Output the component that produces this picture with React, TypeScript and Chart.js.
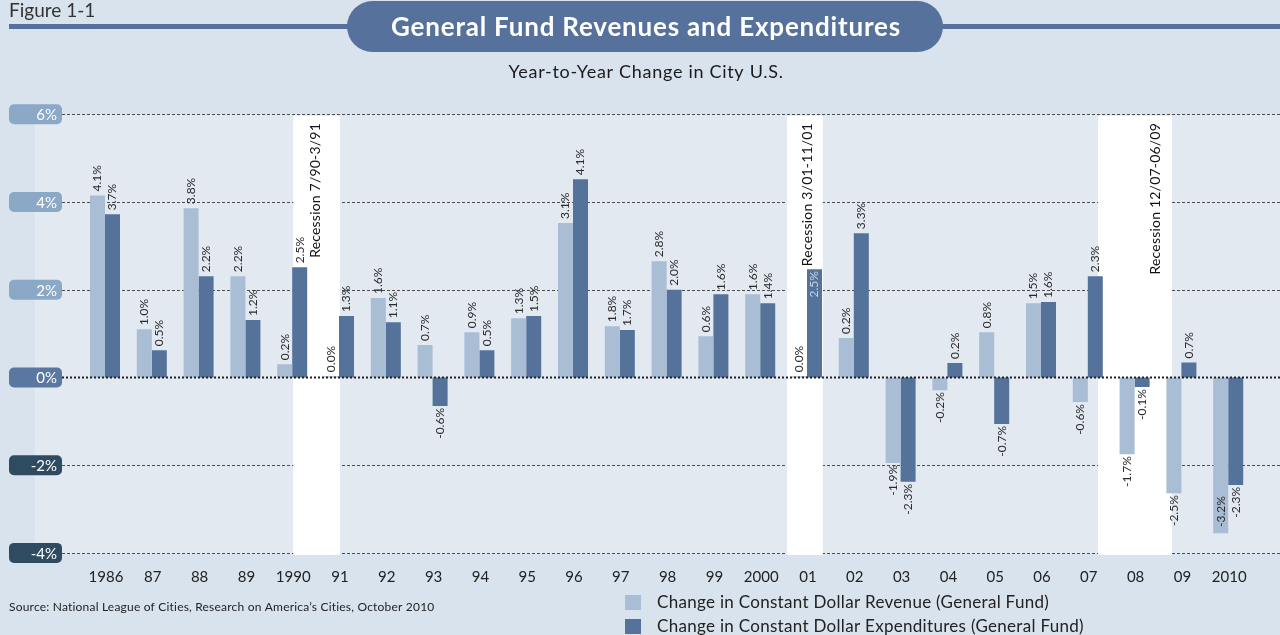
import { useEffect, useRef } from 'react';
import { Chart, registerables } from 'chart.js';

Chart.register(...registerables);

const FONT = 'Lato, "Open Sans", sans-serif';

const years = ['1986', '87', '88', '89', '1990', '91', '92', '93', '94', '95', '96', '97', '98', '99', '2000', '01', '02', '03', '04', '05', '06', '07', '08', '09', '2010'];

// bar heights as drawn in the reference (percent)
const revenueValues = [4.15, 1.10, 3.86, 2.31, 0.30, 0.03, 1.81, 0.74, 1.03, 1.35, 3.52, 1.17, 2.65, 0.94, 1.90, 0.03, 0.90, -1.95, -0.29, 1.03, 1.69, -0.56, -1.75, -2.64, -3.55];
const expenditureValues = [3.72, 0.62, 2.31, 1.31, 2.51, 1.40, 1.26, -0.65, 0.62, 1.40, 4.52, 1.08, 2.00, 1.90, 1.69, 2.47, 3.29, -2.38, 0.33, -1.06, 1.72, 2.31, -0.22, 0.34, -2.45];

// value labels as printed in the reference
const revenueLabels = ['4.1%', '1.0%', '3.8%', '2.2%', '0.2%', '0.0%', '1.6%', '0.7%', '0.9%', '1.3%', '3.1%', '1.8%', '2.8%', '0.6%', '1.6%', '0.0%', '0.2%', '-1.9%', '-0.2%', '0.8%', '1.5%', '-0.6%', '-1.7%', '-2.5%', '-3.2%'];
const expenditureLabels = ['3.7%', '0.5%', '2.2%', '1.2%', '2.5%', '1.3%', '1.1%', '-0.6%', '0.5%', '1.5%', '4.1%', '1.7%', '2.0%', '1.6%', '1.4%', '2.5%', '3.3%', '-2.3%', '0.2%', '-0.7%', '1.6%', '2.3%', '-0.1%', '0.7%', '-2.3%'];

const yTicks = [6, 4, 2, 0, -2, -4];
const yTickLabels = ['6%', '4%', '2%', '0%', '-2%', '-4%'];

// recession periods, in category-index units
const recessionNames = ['Recession 7/90-3/91', 'Recession 3/01-11/01', 'Recession 12/07-06/09'];
const recessionStarts = [4.02, 14.57, 21.22];
const recessionEnds = [5.02, 15.34, 22.8];
const recessionLabelAt = [4.5, 15.0, 22.44];

// label drawn inside its bar (dataset index, category index)
const insideLabelSeries = [1];
const insideLabelIndex = [15];

const seriesNames = ['Change in Constant Dollar Revenue (General Fund)', 'Change in Constant Dollar Expenditures (General Fund)'];

const PAGE_BG = '#d9e3ed';
const PLOT_BG = '#e2e9f1';
const LIGHT = '#a9bdd5';
const DARK = '#55729b';
const NAVY = '#56729c';

const decor = {
  id: 'decor',
  beforeDraw(chart: any) {
    const { ctx } = chart;
    const x = chart.scales.x;
    const y = chart.scales.y;
    const W = chart.width;
    const H = chart.height;
    const top = y.getPixelForValue(6);
    const bottom = y.getPixelForValue(-4);
    ctx.save();
    ctx.fillStyle = PAGE_BG;
    ctx.fillRect(0, 0, W, H);
    ctx.fillStyle = PLOT_BG;
    ctx.fillRect(35, top, W - 35, bottom - top + 1);

    // grid lines
    ctx.strokeStyle = '#4d4d4d';
    ctx.lineWidth = 1;
    ctx.setLineDash([3, 2]);
    yTicks.forEach((t) => {
      if (t === 0) return;
      const py = Math.round(y.getPixelForValue(t)) + 0.5;
      ctx.beginPath();
      ctx.moveTo(62, py);
      ctx.lineTo(W, py);
      ctx.stroke();
    });
    ctx.setLineDash([]);

    // recession bands
    ctx.fillStyle = '#ffffff';
    recessionStarts.forEach((s, i) => {
      const x0 = x.getPixelForValue(s);
      const x1 = x.getPixelForValue(recessionEnds[i]);
      ctx.fillRect(x0, top + 1.5, x1 - x0, bottom - top + 0.5);
    });

    // y tick pills
    yTicks.forEach((t, i) => {
      const py = y.getPixelForValue(t);
      ctx.fillStyle = t > 0 ? '#8ba8c6' : t === 0 ? '#5a77a2' : '#2f4b62';
      ctx.beginPath();
      ctx.roundRect(9, py - 10, 53, 20, 5);
      ctx.fill();
      ctx.fillStyle = '#ffffff';
      ctx.font = `15px ${FONT}`;
      ctx.textAlign = 'right';
      ctx.textBaseline = 'middle';
      ctx.fillText(yTickLabels[i], 57, py + 1);
    });

    // x labels
    ctx.fillStyle = '#222222';
    ctx.font = `15px ${FONT}`;
    ctx.textAlign = 'center';
    ctx.textBaseline = 'middle';
    years.forEach((lab, i) => {
      ctx.fillText(lab, x.getPixelForValue(i) + 1, 577);
    });

    // header
    ctx.fillStyle = '#333333';
    ctx.font = `19px ${FONT}`;
    ctx.textAlign = 'left';
    ctx.textBaseline = 'alphabetic';
    ctx.fillText('Figure 1-1', 9, 17);
    ctx.fillStyle = NAVY;
    ctx.fillRect(9, 24, W - 9, 5);
    ctx.beginPath();
    ctx.roundRect(347, 1, 596, 51, 25.5);
    ctx.fill();
    ctx.fillStyle = '#ffffff';
    ctx.font = `bold 26px ${FONT}`;
    ctx.letterSpacing = '0.8px';
    ctx.textAlign = 'center';
    ctx.fillText('General Fund Revenues and Expenditures', 646, 36);
    ctx.fillStyle = '#1a1a1a';
    ctx.font = `18px ${FONT}`;
    ctx.letterSpacing = '0.7px';
    ctx.fillText('Year-to-Year Change in City U.S.', 646, 78);

    // source
    ctx.fillStyle = '#222222';
    ctx.font = `12px ${FONT}`;
    ctx.letterSpacing = '0.2px';
    ctx.textAlign = 'left';
    ctx.fillText('Source: National League of Cities, Research on America\u2019s Cities, October 2010', 9, 611);

    // legend
    ctx.fillStyle = LIGHT;
    ctx.fillRect(625, 595, 16, 15);
    ctx.fillStyle = DARK;
    ctx.fillRect(625, 619, 16, 15);
    ctx.fillStyle = '#222222';
    ctx.font = `17px ${FONT}`;
    ctx.letterSpacing = '0.3px';
    ctx.textBaseline = 'middle';
    ctx.fillText(seriesNames[0], 657, 603);
    ctx.fillText(seriesNames[1], 657, 627);
    ctx.letterSpacing = '0px';
    ctx.restore();
  },
  afterDatasetsDraw(chart: any) {
    const { ctx } = chart;
    const x = chart.scales.x;
    const y = chart.scales.y;
    const W = chart.width;
    const bottom = y.getPixelForValue(-4);
    ctx.save();
    ctx.letterSpacing = '0px';
    // zero line
    const zy = y.getPixelForValue(0);
    ctx.strokeStyle = '#222222';
    ctx.lineWidth = 2;
    ctx.setLineDash([2, 2]);
    ctx.beginPath();
    ctx.moveTo(62, zy);
    ctx.lineTo(W, zy);
    ctx.stroke();
    ctx.setLineDash([]);

    // value labels
    ctx.font = `12px ${FONT}`;
    ctx.textBaseline = 'middle';
    [revenueLabels, expenditureLabels].forEach((labels, d) => {
      const vals = d === 0 ? revenueValues : expenditureValues;
      const meta = chart.getDatasetMeta(d);
      meta.data.forEach((el: any, i: number) => {
        const text = labels[i];
        const w = ctx.measureText(text).width;
        const inside = insideLabelSeries.some((s, k) => s === d && insideLabelIndex[k] === i);
        let ay: number;
        let align: CanvasTextAlign;
        let color = '#2a2a2a';
        if (inside) {
          ay = el.y + 2;
          align = 'right';
          color = '#c5d3e4';
        } else if (vals[i] >= 0) {
          ay = el.y - 4;
          align = 'left';
        } else {
          ay = Math.min(el.y + 2, bottom - 26 - w);
          align = 'right';
        }
        ctx.save();
        ctx.translate(el.x, ay);
        ctx.rotate(-Math.PI / 2);
        ctx.textAlign = align;
        ctx.fillStyle = color;
        ctx.fillText(text, 0, 0);
        ctx.restore();
      });
    });

    // recession labels
    ctx.font = `14px ${FONT}`;
    ctx.letterSpacing = '0.2px';
    ctx.fillStyle = '#111111';
    recessionNames.forEach((name, i) => {
      ctx.save();
      ctx.translate(x.getPixelForValue(recessionLabelAt[i]), 123);
      ctx.rotate(-Math.PI / 2);
      ctx.textAlign = 'right';
      ctx.textBaseline = 'middle';
      ctx.fillText(name, 0, 0);
      ctx.restore();
    });
    ctx.letterSpacing = '0px';
    ctx.restore();
  },
};

export default function App() {
  const ref = useRef<HTMLCanvasElement>(null);
  useEffect(() => {
    document.body.style.margin = '0';
    const canvas = ref.current;
    if (!canvas) return;
    const chart = new Chart(canvas, {
      type: 'bar',
      data: {
        labels: years,
        datasets: [
          { label: seriesNames[0], data: revenueValues, backgroundColor: LIGHT, borderWidth: 0, categoryPercentage: 0.641, barPercentage: 1.0 },
          { label: seriesNames[1], data: expenditureValues, backgroundColor: DARK, borderWidth: 0, categoryPercentage: 0.641, barPercentage: 1.0 },
        ],
      },
      options: {
        responsive: false,
        animation: false,
        devicePixelRatio: 1,
        layout: { padding: { left: 81.6, right: 28.4, top: 114.3, bottom: 82.1 } },
        scales: {
          x: { display: false, offset: true },
          y: { display: false, min: -4, max: 6 },
        },
        plugins: {
          legend: { display: false },
          tooltip: { enabled: false },
          title: { display: false },
        },
      },
      plugins: [decor],
    });
    return () => chart.destroy();
  }, []);
  return (
    <div style={{ width: 1280, height: 635, position: 'relative' }}>
      <canvas ref={ref} width={1280} height={635} style={{ display: 'block' }} />
    </div>
  );
}
